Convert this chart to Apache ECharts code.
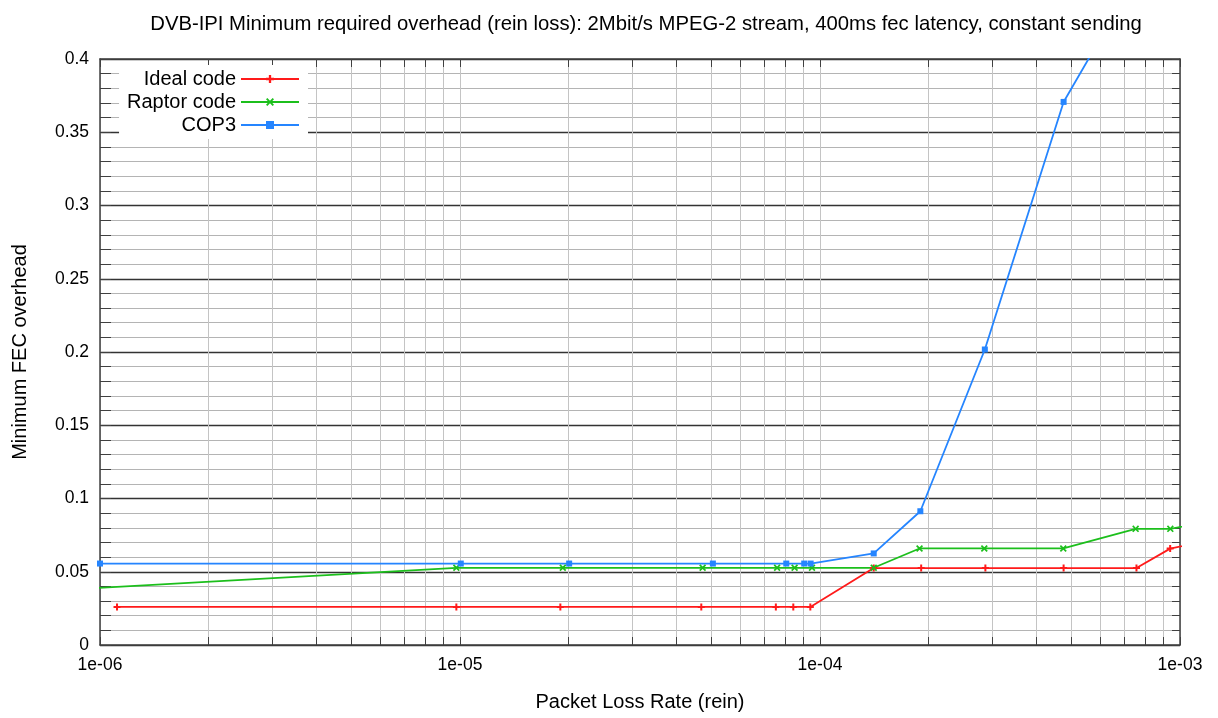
<!DOCTYPE html>
<html>
<head>
<meta charset="utf-8">
<script src="https://cdn.jsdelivr.net/npm/echarts@6/dist/echarts.min.js"></script>
<style>html,body{margin:0;padding:0;background:#fff}#chart{width:1218px;height:718px}</style>
</head>
<body>
<div id="chart"></div>
<script>
// ---- data ----
const titleText = 'DVB-IPI Minimum required overhead (rein loss): 2Mbit/s MPEG-2 stream, 400ms fec latency, constant sending';
const xAxisName = 'Packet Loss Rate (rein)';
const yAxisName = 'Minimum FEC overhead';
const seriesNames = ['Ideal code', 'Raptor code', 'COP3'];
const xTickLabels = ['1e-06', '1e-05', '1e-04', '1e-03'];
const xDecades = [1e-6, 1e-5, 1e-4, 1e-3];
const minorMultipliers = [2, 3, 4, 5, 6, 7, 8, 9];

const idealX = [1.115e-6, 9.77e-6, 1.9e-5, 4.68e-5, 7.54e-5, 8.43e-5, 9.4e-5, 1.41e-4, 1.91e-4, 2.88e-4, 4.75e-4, 7.57e-4, 9.39e-4, 1.5e-3];
const idealY = [0.0260, 0.0260, 0.0260, 0.0260, 0.0260, 0.0260, 0.0260, 0.0525, 0.0525, 0.0525, 0.0525, 0.0525, 0.0658, 0.0760];

const raptorX = [5e-7, 9.77e-6, 1.93e-5, 4.72e-5, 7.6e-5, 8.5e-5, 9.5e-5, 1.41e-4, 1.89e-4, 2.86e-4, 4.74e-4, 7.53e-4, 9.4e-4, 1.5e-3];
const raptorY = [0.0348, 0.0527, 0.0527, 0.0527, 0.0527, 0.0527, 0.0527, 0.0527, 0.0659, 0.0659, 0.0659, 0.0793, 0.0793, 0.0890];

const cop3X = [1e-6, 1.005e-5, 2.01e-5, 5.04e-5, 8.06e-5, 9.04e-5, 9.42e-5, 1.41e-4, 1.90e-4, 2.87e-4, 4.75e-4, 7.55e-4];
const cop3Y = [0.0556, 0.0556, 0.0556, 0.0556, 0.0556, 0.0556, 0.0556, 0.0625, 0.0913, 0.2017, 0.3707, 0.4560];

// ---- chart ----
const FONT = "'Liberation Sans', Arial, sans-serif";
const colors = ['#ff1a1a', '#1cbf1c', '#2585ff'];
const plusSym = 'path://M2.5,0H4.5V2.5H7V4.5H4.5V7H2.5V4.5H0V2.5H2.5Z';
const crossSym = 'path://M0,1.2L1.2,0L3.5,2.3L5.8,0L7,1.2L4.7,3.5L7,5.8L5.8,7L3.5,4.7L1.2,7L0,5.8L2.3,3.5Z';

const zip = (xs, ys) => xs.map((x, i) => [x, ys[i]]);

const minorXs = [];
xDecades.slice(0, -1).forEach(d => minorMultipliers.forEach(m => minorXs.push(d * m)));

const yMin = 0, yMax = 0.4;
const tickLen = (yMax - yMin) * 8 / 587;

const gridLines = minorXs.map(x => [{ coord: [x, yMin] }, { coord: [x, yMax] }]);
const tickLines = [];
minorXs.concat(xDecades).forEach(x => {
  tickLines.push([{ coord: [x, yMin] }, { coord: [x, yMin + tickLen] }]);
  tickLines.push([{ coord: [x, yMax] }, { coord: [x, yMax - tickLen] }]);
});

const chart = echarts.init(document.getElementById('chart'), null, { renderer: 'canvas' });

function mkLine(idx, xs, ys, sym, size) {
  return {
    name: seriesNames[idx], type: 'line', data: zip(xs, ys),
    symbol: sym, symbolSize: size, showSymbol: true, clip: true,
    lineStyle: { color: colors[idx], width: 1.8 },
    itemStyle: { color: colors[idx] },
    z: 5, animation: false
  };
}

const option = {
  animation: false,
  backgroundColor: '#ffffff',
  textStyle: { fontFamily: FONT },
  title: {
    text: titleText, left: 641, top: 9, textAlign: 'center',
    textStyle: { fontFamily: FONT, fontSize: 20.3, fontWeight: 'normal', color: '#000' }
  },
  legend: {
    data: seriesNames, orient: 'vertical', align: 'right',
    right: 910, top: 65, padding: [4, 8], itemGap: 3,
    itemWidth: 58, itemHeight: 10, z: 50, zlevel: 0,
    backgroundColor: '#ffffff',
    textStyle: { fontFamily: FONT, fontSize: 20, color: '#000', lineHeight: 20 }
  },
  grid: { left: 100, right: 38, top: 59, bottom: 73, containLabel: false },
  xAxis: [{
    type: 'log', logBase: 10, min: 1e-6, max: 1e-3,
    name: xAxisName, nameLocation: 'middle', nameGap: 47,
    nameTextStyle: { fontFamily: FONT, fontSize: 20, color: '#000' },
    axisLine: { show: true, onZero: false, lineStyle: { color: '#404040', width: 1.5 } },
    axisTick: { show: false },
    axisLabel: {
      margin: 11, fontFamily: FONT, fontSize: 17.5, color: '#000',
      formatter: v => { const i = xDecades.findIndex(d => Math.abs(Math.log10(d) - Math.log10(v)) < 1e-6); return i >= 0 ? xTickLabels[i] : ''; }
    },
    splitLine: { show: true, lineStyle: { color: '#c4c4c4', width: 1 } },
    minorTick: { show: false }, minorSplitLine: { show: false }
  }, {
    type: 'log', logBase: 10, min: 1e-6, max: 1e-3, position: 'top',
    axisLine: { show: true, onZero: false, lineStyle: { color: '#404040', width: 1.5 } },
    axisTick: { show: false }, axisLabel: { show: false }, splitLine: { show: false }
  }],
  yAxis: [{
    type: 'value', min: yMin, max: yMax, interval: 0.05,
    name: yAxisName, nameLocation: 'middle', nameGap: 70, nameRotate: 90,
    nameTextStyle: { fontFamily: FONT, fontSize: 20, color: '#000' },
    axisLine: { show: true, onZero: false, lineStyle: { color: '#404040', width: 1.5 } },
    axisTick: { show: true, inside: true, length: 11, lineStyle: { color: '#404040' } },
    minorTick: { show: true, splitNumber: 5, length: 11, lineStyle: { color: '#404040' } },
    axisLabel: { margin: 11, fontFamily: FONT, fontSize: 17.5, color: '#000' },
    splitLine: { show: true, lineStyle: { color: '#333333', width: 1.3 } },
    minorSplitLine: { show: true, lineStyle: { color: '#b4b4b4', width: 1 } }
  }, {
    type: 'value', min: yMin, max: yMax, interval: 0.05, position: 'right',
    axisLine: { show: true, onZero: false, lineStyle: { color: '#404040', width: 1.5 } },
    axisTick: { show: true, inside: true, length: 8, lineStyle: { color: '#404040' } },
    minorTick: { show: true, splitNumber: 5, length: 8, lineStyle: { color: '#404040' } },
    axisLabel: { show: false }, splitLine: { show: false }
  }],
  series: [
    {
      name: '_grid', type: 'line', data: [], z: 1, silent: true, animation: false,
      markLine: {
        silent: true, symbol: ['none', 'none'], label: { show: false }, animation: false,
        lineStyle: { color: '#c4c4c4', width: 1, type: 'solid' },
        data: gridLines
      }
    },
    {
      name: '_ticks', type: 'line', data: [], z: 3, silent: true, animation: false,
      markLine: {
        silent: true, symbol: ['none', 'none'], label: { show: false }, animation: false,
        lineStyle: { color: '#404040', width: 1, type: 'solid' },
        data: tickLines
      }
    },
    mkLine(0, idealX, idealY, plusSym, 7),
    mkLine(1, raptorX, raptorY, crossSym, 7),
    mkLine(2, cop3X, cop3Y, 'rect', 6)
  ]
};
chart.setOption(option);
</script>
</body>
</html>
